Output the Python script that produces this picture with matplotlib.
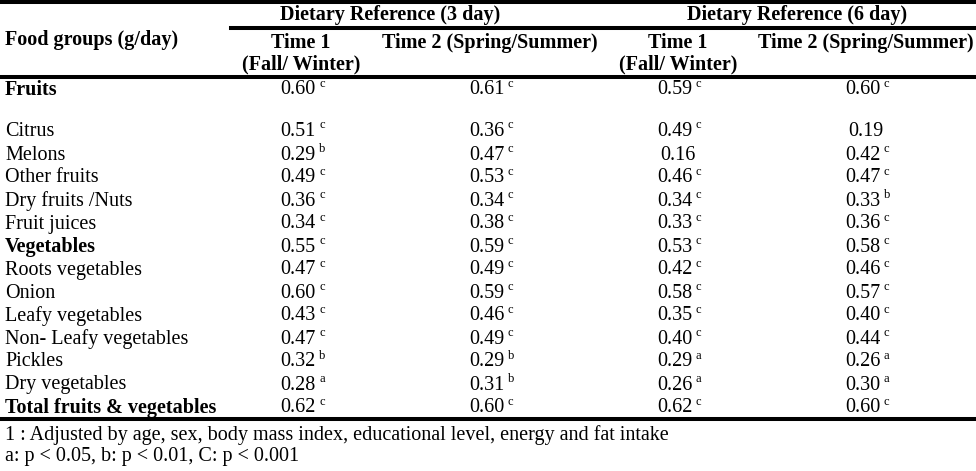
import matplotlib.pyplot as plt

plt.rcParams['font.family'] = ['Liberation Serif', 'DejaVu Serif']

# Table content
food_groups = ["Fruits", "", "Citrus", "Melons", "Other fruits", "Dry fruits /Nuts",
               "Fruit juices", "Vegetables", "Roots vegetables", "Onion",
               "Leafy vegetables", "Non- Leafy vegetables", "Pickles",
               "Dry vegetables", "Total fruits & vegetables"]
bold_rows = ["Fruits", "Vegetables", "Total fruits & vegetables"]

ref3_time1 = ["0.60", "", "0.51", "0.29", "0.49", "0.36", "0.34", "0.55", "0.47",
              "0.60", "0.43", "0.47", "0.32", "0.28", "0.62"]
ref3_time1_sig = ["c", "", "c", "b", "c", "c", "c", "c", "c", "c", "c", "c", "b", "a", "c"]
ref3_time2 = ["0.61", "", "0.36", "0.47", "0.53", "0.34", "0.38", "0.59", "0.49",
              "0.59", "0.46", "0.49", "0.29", "0.31", "0.60"]
ref3_time2_sig = ["c", "", "c", "c", "c", "c", "c", "c", "c", "c", "c", "c", "b", "b", "c"]
ref6_time1 = ["0.59", "", "0.49", "0.16", "0.46", "0.34", "0.33", "0.53", "0.42",
              "0.58", "0.35", "0.40", "0.29", "0.26", "0.62"]
ref6_time1_sig = ["c", "", "c", "", "c", "c", "c", "c", "c", "c", "c", "c", "a", "a", "c"]
ref6_time2 = ["0.60", "", "0.19", "0.42", "0.47", "0.33", "0.36", "0.58", "0.46",
              "0.57", "0.40", "0.44", "0.26", "0.30", "0.60"]
ref6_time2_sig = ["c", "", "", "c", "c", "b", "c", "c", "c", "c", "c", "c", "a", "a", "c"]

group_headers = ["Dietary Reference (3 day)", "Dietary Reference (6 day)"]
col_headers = ["Time 1\n(Fall/ Winter)", "Time 2 (Spring/Summer)",
               "Time 1\n(Fall/ Winter)", "Time 2 (Spring/Summer)"]
footnotes = ["1 : Adjusted by age, sex, body mass index, educational level, energy and fat intake",
             "a: p < 0.05, b: p < 0.01, C: p < 0.001"]

W, H = 976, 471
fig = plt.figure(figsize=(W / 100, H / 100), dpi=100)
ax = fig.add_axes([0, 0, 1, 1])
ax.set_xlim(0, W)
ax.set_ylim(H, 0)
ax.axis('off')

fs = 14.5
col_x = [301, 490, 678, 866]
group_x = [390, 797]

# rules
ax.plot([0, W], [2, 2], color='black', lw=2.9)
ax.plot([231, W], [28, 28], color='black', lw=2.9)
ax.plot([0, W], [77, 77], color='black', lw=2.9)
ax.plot([0, W], [419, 419], color='black', lw=2.9)

# headers
for gx, g in zip(group_x, group_headers):
    ax.text(gx, 15, g, ha='center', va='center', fontsize=fs, fontweight='bold')
ax.text(5, 40, "Food groups (g/day)", ha='left', va='center', fontsize=fs, fontweight='bold')
for cx, h in zip(col_x, col_headers):
    lines = h.split("\n")
    for k, line in enumerate(lines):
        ax.text(cx, 43 + 21 * k, line, ha='center', va='center', fontsize=fs, fontweight='bold')

# body
row_y = [90, 112, 131, 155, 178, 201, 224, 247, 270, 293, 316, 339, 362, 385, 408]
columns = [(ref3_time1, ref3_time1_sig), (ref3_time2, ref3_time2_sig),
           (ref6_time1, ref6_time1_sig), (ref6_time2, ref6_time2_sig)]
for i, (name, y) in enumerate(zip(food_groups, row_y)):
    weight = 'bold' if name in bold_rows else 'normal'
    ax.text(5, y, name, ha='left', va='center', fontsize=fs, fontweight=weight)
    for cx, (vals, sigs) in zip(col_x, columns):
        if not vals[i]:
            continue
        if sigs[i]:
            ax.text(cx - 3, y, vals[i], ha='center', va='center', fontsize=fs)
            ax.text(cx + 18, y - 6, sigs[i], ha='left', va='center', fontsize=fs * 0.62)
        else:
            ax.text(cx, y, vals[i], ha='center', va='center', fontsize=fs)

for k, note in enumerate(footnotes):
    ax.text(5, 435 + 22 * k, note, ha='left', va='center', fontsize=fs)

fig.savefig("out.png", dpi=100)
